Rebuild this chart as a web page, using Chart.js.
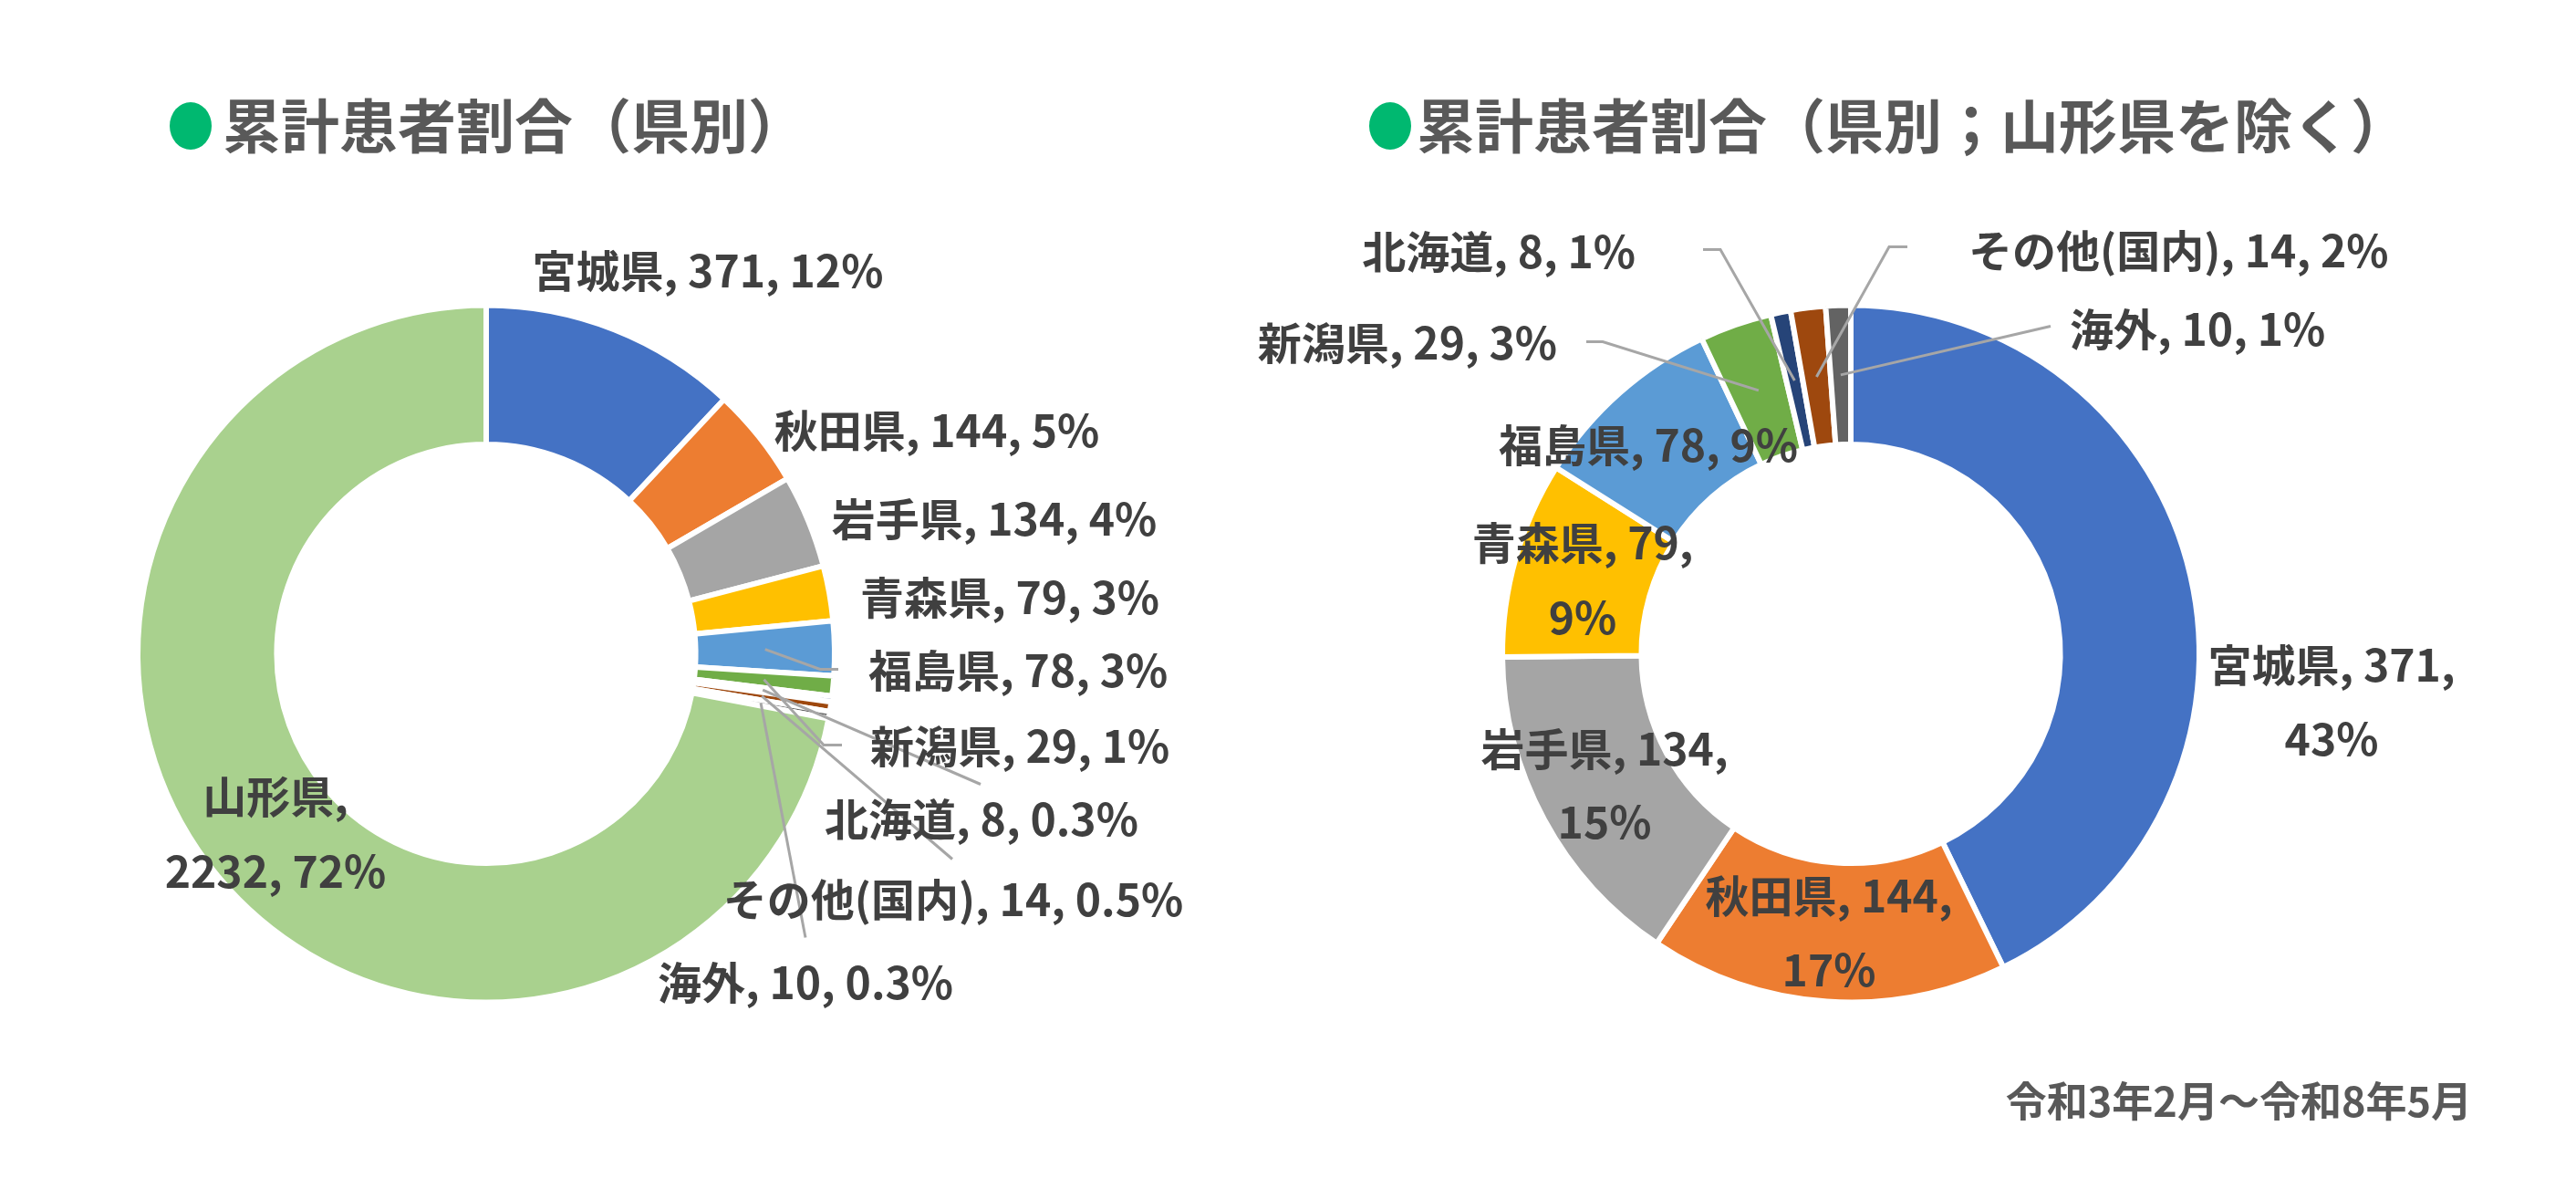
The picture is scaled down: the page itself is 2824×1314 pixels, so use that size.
<!DOCTYPE html>
<html>
<head>
<meta charset="utf-8">
<script src="https://cdn.jsdelivr.net/npm/chart.js@4.4.1/dist/chart.umd.min.js"></script>
<style>
  html, body { margin: 0; padding: 0; background: #ffffff; width: 2824px; height: 1314px; overflow: hidden; }
  #stage { position: relative; width: 2824px; height: 1314px; }
  #stage canvas { position: absolute; left: 0; top: 0; width: 2824px; height: 1314px; }
  .title { position: absolute; font-family: "Noto Sans CJK JP", "Noto Sans CJK SC", sans-serif; font-weight: 700;
           font-size: 64px; line-height: 64px; color: #595959; white-space: nowrap; }
  .dot { position: absolute; width: 46px; height: 52px; border-radius: 50%; background: #00B870; }
  .note { position: absolute; font-family: "Noto Sans CJK JP", "Noto Sans CJK SC", sans-serif; font-weight: 700;
          font-size: 45px; line-height: 45px; color: #595959; white-space: nowrap; text-align: right; }
</style>
</head>
<body>
<div id="stage">
  <canvas id="chartAll" width="2824" height="1314"></canvas>
  <canvas id="chartEx" width="2824" height="1314"></canvas>
  <div class="dot" style="left:186px;top:112px;"></div>
  <div class="title" style="left:244px;top:102px;">累計患者割合（県別）</div>
  <div class="dot" style="left:1501px;top:112px;"></div>
  <div class="title" style="left:1553px;top:102px;">累計患者割合（県別；山形県を除く）</div>
  <div class="note" style="right:114px;top:1182px;">令和3年2月～令和8年5月</div>
</div>
<script>
// ---------------- data ----------------
const categoriesAll = ['宮城県', '秋田県', '岩手県', '青森県', '福島県', '新潟県', '北海道', 'その他(国内)', '海外', '山形県'];
const valuesAll     = [371, 144, 134, 79, 78, 29, 8, 14, 10, 2232];
const percentAll    = ['12%', '5%', '4%', '3%', '3%', '1%', '0.3%', '0.5%', '0.3%', '72%'];

const categoriesEx  = ['宮城県', '秋田県', '岩手県', '青森県', '福島県', '新潟県', '北海道', 'その他(国内)', '海外'];
const valuesEx      = [371, 144, 134, 79, 78, 29, 8, 14, 10];
const percentEx     = ['43%', '17%', '15%', '9%', '9%', '3%', '1%', '2%', '1%'];

// ---------------- styles ----------------
const sliceColors = ['#4472C4', '#ED7D31', '#A5A5A5', '#FFC000', '#5B9BD5', '#70AD47', '#264478', '#9E480E', '#636363', '#A9D18E'];
const labelFont = '700 48px "Noto Sans CJK JP", "Noto Sans CJK SC", sans-serif';
const labelColor = '#404040';
const leaderColor = '#A6A6A6';

// label placement, relative to the doughnut centre (px)
// align: text alignment at (dx, dy); split: line break after N comma parts; leader: elbow points
const layoutAll = [
  { dx: 243, dy: -420, align: 'center' },
  { dx: 494, dy: -245, align: 'center' },
  { dx: 557, dy: -148, align: 'center' },
  { dx: 574, dy: -62,  align: 'center' },
  { dx: 419, dy: 18,   align: 'left', leader: [[366, 17], [386, 17]] },
  { dx: 421, dy: 101,  align: 'left', leader: [[370, 100], [390, 100]] },
  { dx: 543, dy: 181,  align: 'center', leader: [[542, 143]] },
  { dx: 512, dy: 269,  align: 'center', leader: [[511, 225]] },
  { dx: 350, dy: 360,  align: 'center', leader: [[350, 311]] },
  { dx: -231, dy: 156, align: 'center', split: 1, lh: 82 }
];
const layoutEx = [
  { dx: 527, dy: 12,   align: 'center', split: 2, lh: 81 },
  { dx: -24, dy: 265,  align: 'center', split: 2, lh: 81 },
  { dx: -270, dy: 104, align: 'center', split: 2, lh: 80 },
  { dx: -294, dy: -122, align: 'center', split: 2, lh: 82 },
  { dx: -222, dy: -229, align: 'center' },
  { dx: -322, dy: -341, align: 'right', leader: [[-272, -342], [-290, -342]] },
  { dx: -236, dy: -441, align: 'right', leader: [[-143, -443], [-162, -443]] },
  { dx: 129, dy: -442,  align: 'left', leader: [[42, -446], [62, -446]] },
  { dx: 240, dy: -356,  align: 'left', leader: [[219, -359]] }
];

function makeLabelPlugin(layout, percents) {
  return {
    id: 'calloutLabels',
    afterDatasetsDraw(chart) {
      const ctx = chart.ctx;
      const meta = chart.getDatasetMeta(0);
      const names = chart.data.labels;
      const vals = chart.data.datasets[0].data;
      ctx.save();
      // leader lines
      ctx.strokeStyle = leaderColor;
      ctx.lineWidth = 3;
      ctx.lineJoin = 'miter';
      layout.forEach((L, i) => {
        if (!L.leader) return;
        const el = meta.data[i];
        const p = el.getCenterPoint();
        ctx.beginPath();
        ctx.moveTo(p.x, p.y);
        L.leader.forEach(q => ctx.lineTo(el.x + q[0], el.y + q[1]));
        ctx.stroke();
      });
      // texts
      ctx.font = labelFont;
      ctx.fillStyle = labelColor;
      ctx.textBaseline = 'middle';
      layout.forEach((L, i) => {
        const el = meta.data[i];
        const parts = [names[i], String(vals[i]), percents[i]];
        let lines;
        if (L.split === 1) lines = [parts[0] + ',', parts[1] + ', ' + parts[2]];
        else if (L.split === 2) lines = [parts[0] + ', ' + parts[1] + ',', parts[2]];
        else lines = [parts.join(', ')];
        ctx.textAlign = L.align;
        lines.forEach((t, k) => ctx.fillText(t, el.x + L.dx, el.y + L.dy + k * (L.lh || 0)));
      });
      ctx.restore();
    }
  };
}

function build(canvasId, labels, values, percents, layout, padding) {
  return new Chart(document.getElementById(canvasId), {
    type: 'doughnut',
    data: {
      labels: labels,
      datasets: [{
        data: values,
        backgroundColor: sliceColors.slice(0, values.length),
        borderColor: '#ffffff',
        borderWidth: 6,
        hoverOffset: 0
      }]
    },
    options: {
      responsive: false,
      animation: false,
      events: [],
      radius: 382,
      cutout: '60.1%',
      layout: { padding: padding },
      plugins: { legend: { display: false }, tooltip: { enabled: false } }
    },
    plugins: [makeLabelPlugin(layout, percents)]
  });
}

function drawAll() {
  build('chartAll', categoriesAll, valuesAll, percentAll, layoutAll, { left: 0, right: 1758, top: 119, bottom: 0 });
  build('chartEx', categoriesEx, valuesEx, percentEx, layoutEx, { left: 1234, right: 0, top: 119, bottom: 0 });
}

const fontLoads = [
  document.fonts.load('700 48px "Noto Sans CJK JP"', '宮城県その他国内海外'),
  document.fonts.load('700 64px "Noto Sans CJK JP"', '累計患者割合')
];
let done = false;
function go() { if (done) return; done = true; drawAll(); }
Promise.all(fontLoads).then(go, go);
setTimeout(go, 1500);
</script>
</body>
</html>
